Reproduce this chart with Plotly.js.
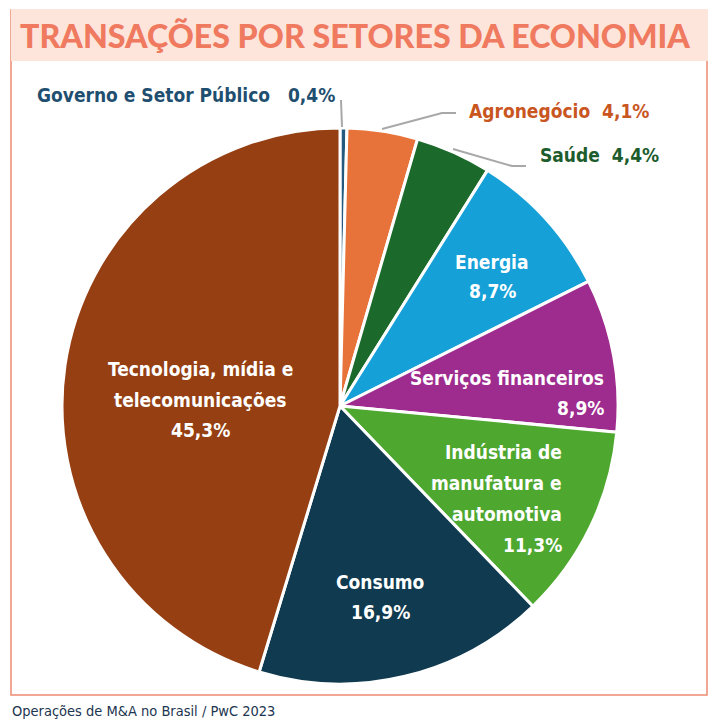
<!DOCTYPE html>
<html><head><meta charset="utf-8">
<script src="https://cdn.plot.ly/plotly-3.0.1.min.js"></script>
<style>html,body{margin:0;padding:0;background:#fff}#chart{width:720px;height:720px}</style>
</head><body><div id="chart"></div>
<script>
const categories = ["Governo e Setor Público","Agronegócio","Saúde","Energia","Serviços financeiros","Indústria de manufatura e automotiva","Consumo","Tecnologia, mídia e telecomunicações"];
const shares = [0.4, 4.1, 4.4, 8.7, 8.9, 11.3, 16.9, 45.3];
const sliceColors = ["#245a80","#e8733a","#1c6a2b","#16a0d8","#9e2b8e","#4ea72f","#0f3a4f","#953f12"];
const insideLines = [null, null, null, ["Energia"], ["Serviços financeiros"], ["Indústria de","manufatura e","automotiva"], ["Consumo"], ["Tecnologia, mídia e","telecomunicações"]];
const titleText = "TRANSAÇÕES POR SETORES DA ECONOMIA";
const sourceText = "Operações de M&A no Brasil / PwC 2023";

const W = 720, H = 720;
const px = x => x / W, py = y => 1 - y / H;
const fmt = v => v.toFixed(1).replace(".", ",") + "%";
const labelFont = "Liberation Sans Narrow, DejaVu Sans Condensed, Arial Narrow, sans-serif";

// pie geometry (pixels)
const cx = 340, cy = 406, R = 278;

const trace = {
  type: "pie", labels: categories, values: shares, sort: false,
  direction: "clockwise", rotation: 0, textinfo: "none", hoverinfo: "label+percent",
  marker: {colors: sliceColors, line: {color: "#ffffff", width: 3}},
  domain: {x: [px(cx - R), px(cx + R)], y: [py(cy + R), py(cy - R)]},
  showlegend: false
};

// inside label placement (pixels): [x, first line center y, anchor, line spacing]
const insidePos = {3: [492, 262, "center", 29], 4: [606, 378, "right", 30], 5: [564, 452, "right", 31], 6: [380, 582, "center", 29.5], 7: [200, 369, "center", 30.5]};
const annotations = [];
Object.keys(insidePos).forEach(k => {
  const i = +k, p = insidePos[k];
  const lines = insideLines[i].concat([fmt(shares[i])]);
  lines.forEach((s, j) => {
    annotations.push({xref: "paper", yref: "paper", x: px(p[0]), y: py(p[1] + j * p[3]),
      xanchor: p[2], yanchor: "middle", showarrow: false,
      text: "<b>" + s + "</b>",
      font: {family: labelFont, size: 19, color: "#ffffff"}});
  });
});
// outside labels
const outside = [
  {i: 0, x: 337, y: 95, anchor: "right", color: "#1f4f70"},
  {i: 1, x: 467, y: 111, anchor: "left", color: "#c9561f"},
  {i: 2, x: 538, y: 155, anchor: "left", color: "#1d5c2c"}
];
outside.forEach(o => {
  const gap = o.i === 0 ? "&nbsp;&nbsp;&nbsp;" : "&nbsp;&nbsp;";
  annotations.push({xref: "paper", yref: "paper", x: px(o.x), y: py(o.y), xanchor: o.anchor, yanchor: "middle",
    showarrow: false, text: "<b>" + categories[o.i] + gap + fmt(shares[o.i]) + "</b>", font: {family: labelFont, size: 19, color: o.color}});
});
annotations.push({xref: "paper", yref: "paper", x: px(355), y: py(35), xanchor: "center", yanchor: "middle",
  showarrow: false, text: titleText, font: {family: "Lato, Open Sans, sans-serif", size: 32.2, weight: 900, color: "#ef7a5f"}});
annotations.push({xref: "paper", yref: "paper", x: px(10), y: py(711), xanchor: "left", yanchor: "middle",
  showarrow: false, text: sourceText, font: {family: labelFont, size: 14.5, color: "#1c3550"}});

const shapes = [
  {type: "rect", xref: "paper", yref: "paper", x0: px(11), x1: px(707), y0: py(10), y1: py(695), line: {color: "#ee8a72", width: 1.5}, fillcolor: "rgba(0,0,0,0)", layer: "below"},
  {type: "rect", xref: "paper", yref: "paper", x0: px(11), x1: px(708), y0: py(9), y1: py(61), line: {width: 0}, fillcolor: "#fde5dc", layer: "below"},
  {type: "line", xref: "paper", yref: "paper", x0: px(341), x1: px(342), y0: py(100), y1: py(127), line: {color: "#a8a8a8", width: 2}},
  {type: "path", xref: "paper", yref: "paper", path: `M${px(456)},${py(113)} L${px(442)},${py(113)} L${px(382)},${py(129)}`, line: {color: "#a8a8a8", width: 2}},
  {type: "path", xref: "paper", yref: "paper", path: `M${px(526)},${py(166)} L${px(512)},${py(166)} L${px(453)},${py(149)}`, line: {color: "#a8a8a8", width: 2}}
];

Plotly.newPlot("chart", [trace], {
  width: W, height: H, margin: {l: 0, r: 0, t: 0, b: 0},
  paper_bgcolor: "#ffffff", plot_bgcolor: "#ffffff",
  annotations: annotations, shapes: shapes, showlegend: false
}, {displayModeBar: false, staticPlot: true});
</script></body></html>
